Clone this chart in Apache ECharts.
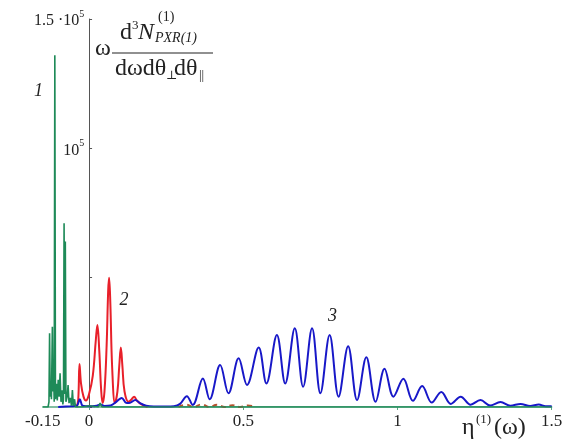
<!DOCTYPE html>
<html>
<head>
<meta charset="utf-8">
<script src="https://cdn.jsdelivr.net/npm/echarts@6/dist/echarts.min.js"></script>
<style>html,body{margin:0;padding:0;background:#fff}#c{width:568px;height:448px}</style>
</head>
<body>
<div id="c"></div>
<script>
// ---- data ----
const xTickLabels = [-0.15, 0, 0.5, 1, 1.5];
const xTickMarks = [0, 0.5, 1, 1.5];
const yLabelValues = [100000, 150000];
const yLabelMantissa = ['', '1.5 ·'];

// curve 1 (green)
const series1 = [[-0.15,0],[-0.133,0],[-0.13,2000],[-0.128,28500],[-0.126,4000],[-0.124,9000],[-0.122,3000],[-0.119,31000],[-0.117,6000],[-0.115,13000],[-0.113,2000],[-0.111,136000],[-0.109,3000],[-0.106,9000],[-0.103,2500],[-0.100,10500],[-0.097,4000],[-0.094,13000],[-0.091,2000],[-0.088,6500],[-0.085,1000],[-0.083,3000],[-0.081,71000],[-0.079,5000],[-0.077,64000],[-0.075,2000],[-0.071,4000],[-0.068,8500],[-0.065,1500],[-0.061,3500],[-0.057,500],[-0.054,6600],[-0.051,500],[-0.047,3000],[-0.044,0],[-0.02,0],[0.0,500],[0.005,0],[0.03,0],[0.036,1500],[0.042,0],[1.5,0]];

// curve 2 (red)
const series2 = [[-0.04,0],[-0.035,3000],[-0.031,16600],[-0.026,9000],[-0.018,4000],[-0.01,2500],[0.0,5000],[0.012,12000],[0.022,26000],[0.027,31700],[0.033,22000],[0.039,7000],[0.044,1500],[0.05,6000],[0.057,24000],[0.062,45000],[0.065,50000],[0.069,40000],[0.075,15000],[0.084,1500],[0.092,6000],[0.098,16000],[0.103,23000],[0.108,16000],[0.115,6000],[0.128,2000],[0.138,3000],[0.146,4000],[0.155,2500],[0.17,1000],[0.19,0]];

// faint brown bumps
const series2b = [[0.29,0],[0.315,900],[0.34,0],[0.365,1000],[0.39,0],[0.415,900],[0.44,0],[0.465,700],[0.49,0],[0.515,600],[0.54,0]];

// curve 3 (blue)
const series3 = [[-0.1,0],[-0.06,300],[-0.04,500],[-0.03,3000],[-0.022,600],[-0.01,300],[0.01,300],[0.025,500],[0.036,1000],[0.05,400],[0.07,600],[0.09,2200],[0.106,3500],[0.12,1600],[0.13,1500],[0.15,2700],[0.165,1500],[0.185,500],[0.21,200],[0.25,200],[0.275,300],[0.295,1200],[0.317,4200],[0.336,800],[0.369,11000],[0.391,3000],[0.425,16200],[0.452,5300],[0.485,18800],[0.512,8500],[0.550,23000],[0.575,9100],[0.609,27800],[0.636,9100],[0.667,30400],[0.694,7800],[0.723,30400],[0.75,5300],[0.780,27800],[0.809,4000],[0.840,23500],[0.869,2700],[0.899,19200],[0.929,2000],[0.958,14800],[0.987,4000],[1.019,10900],[1.05,2400],[1.080,8100],[1.111,1700],[1.142,5800],[1.173,1200],[1.205,4000],[1.237,900],[1.269,2700],[1.30,600],[1.334,1900],[1.366,500],[1.399,1200],[1.43,400],[1.458,1000],[1.48,300],[1.5,300]];

const curveLabels = ['1', '2', '3'];

// ---- chart ----
const SERIF = '"Liberation Serif", "DejaVu Serif", serif';
const chart = echarts.init(document.getElementById('c'), null, {renderer: 'canvas'});

function txt(text, x, y, size, italic, align) {
  return {
    type: 'text', x: x, y: y, silent: true,
    style: {
      text: text,
      font: (italic ? 'italic ' : '') + size + 'px ' + SERIF,
      fill: '#222',
      align: align || 'left', verticalAlign: 'middle',
      textAlign: align || 'left', textVerticalAlign: 'middle'
    }
  };
}

const option = {
  animation: false,
  grid: {left: 42.8, right: 16.3, top: 19, bottom: 41, containLabel: false, outerBoundsMode: 'none'},
  xAxis: {
    type: 'value', min: -0.15, max: 1.5,
    splitLine: {show: false},
    axisLine: {onZero: true, lineStyle: {color: '#5aa882', width: 1.5}},
    axisTick: {show: true, customValues: xTickMarks, length: 3, lineStyle: {color: '#5aa882'}},
    axisLabel: {
      customValues: xTickLabels, margin: 6,
      fontFamily: SERIF, fontSize: 17, color: '#222',
      formatter: v => String(v)
    }
  },
  yAxis: {
    type: 'value', min: 0, max: 150000, interval: 50000,
    splitLine: {show: false},
    axisLine: {onZero: true, lineStyle: {color: '#555', width: 1}},
    axisTick: {show: true, inside: true, length: 3, lineStyle: {color: '#555'}},
    axisLabel: {
      margin: -41.5,
      formatter: v => {
        const i = yLabelValues.indexOf(v);
        return i < 0 ? '' : '{m|' + yLabelMantissa[i] + '10}{e|5}';
      },
      rich: {
        m: {fontFamily: SERIF, fontSize: 16, color: '#222', lineHeight: 20, verticalAlign: 'bottom'},
        e: {fontFamily: SERIF, fontSize: 10, color: '#222', lineHeight: 10, verticalAlign: 'top'}
      }
    }
  },
  series: [
    {type: 'line', data: series2, smooth: 0.4, showSymbol: false, lineStyle: {color: '#e8202a', width: 2}, z: 2},
    {type: 'line', data: series3, smooth: 0.36, showSymbol: false, lineStyle: {color: '#1818c8', width: 2}, z: 3},
    {type: 'line', data: series2b, smooth: 0.5, showSymbol: false, lineStyle: {color: '#b5532e', width: 2, type: [5, 4]}, z: 3},
    {type: 'line', data: series1, smooth: false, showSymbol: false, lineStyle: {color: '#1e8a58', width: 1.6}, z: 4}
  ],
  graphic: [
    txt(curveLabels[0], 38.5, 91, 18, true, 'center'),
    txt(curveLabels[1], 124, 300, 18, true, 'center'),
    txt(curveLabels[2], 332.5, 316, 18, true, 'center'),
    // y-axis title
    txt('ω', 95, 49, 24, false),
    txt('d', 120, 33, 24, false),
    txt('3', 132, 26, 13, false),
    txt('N', 138, 33, 24, true),
    txt('(1)', 158, 17, 14, false),
    txt('PXR(1)', 155, 38, 14, true),
    {type: 'line', silent: true, shape: {x1: 112, y1: 53, x2: 213, y2: 53}, style: {stroke: '#222', lineWidth: 1.2}},
    txt('dωdθ', 115, 69, 24, false),
    txt('⊥', 166, 76, 12, false),
    txt('dθ', 174, 69, 24, false),
    txt('||', 199, 76, 13, false),
    // x-axis title
    txt('η', 462, 428, 24, false),
    txt('(1)', 476, 420, 13, false),
    txt('(ω)', 494, 428, 24, false)
  ]
};
chart.setOption(option);
</script>
</body>
</html>
